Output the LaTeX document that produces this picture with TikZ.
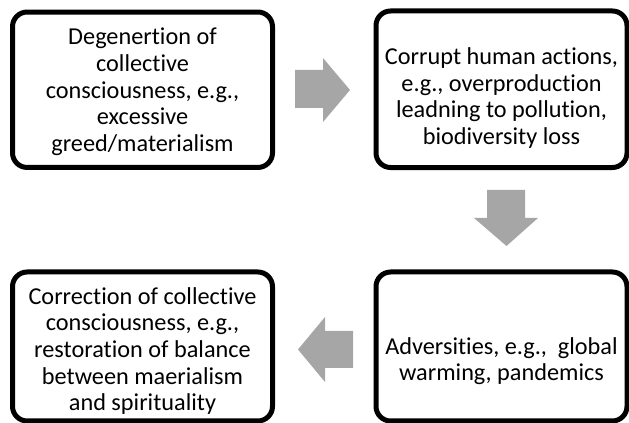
\documentclass[tikz,border=0pt]{standalone}
\usepackage{fontspec}
\setmainfont{Carlito}[Ligatures=NoCommon]
\definecolor{arrowgray}{HTML}{A6A6A6}
\begin{document}
\begin{tikzpicture}[x=0.75pt,y=-0.75pt,
  box/.style={draw=black, line width=3.75pt, rounded corners=11pt, fill=white, inner sep=0pt},
  txt/.style={align=center, font=\fontsize{18.2}{20}\selectfont, inner sep=0pt},
  blockarrow/.style={fill=arrowgray, draw=none}]
\useasboundingbox (0,0) rectangle (629,423);
% boxes
\node[box, minimum width=195pt, minimum height=116.6pt] (b1) at (142.5,89.75) {};
\node[box, minimum width=188.25pt, minimum height=117.4pt] (b2) at (501.5,89.25) {};
\node[box, minimum width=188.25pt, minimum height=111.75pt] (b3) at (501.5,346.5) {};
\node[box, minimum width=195pt, minimum height=111.75pt] (b4) at (142.5,346.5) {};
% texts
\node[txt] (t1) at ([yshift=-1.5pt]b1.center) {Degenertion of\\collective\\consciousness, e.g.,\\excessive\\greed/materialism};
\node[txt] (t2) at ([yshift=-6.5pt]b2.center) {Corrupt human actions,\\e.g., overproduction\\leadning to pollution,\\biodiversity loss};
\node[txt] (t3) at ([yshift=-11pt]b3.center) {Adversities, e.g.,~ global\\warming, pandemics};
\node[txt] (t4) at ([yshift=-3.5pt]b4.center) {Correction of collective\\consciousness, e.g.,\\restoration of balance\\between maerialism\\and spirituality};
% block arrows
\fill[blockarrow] (295,70) -- (323,70) -- (323,58) -- (350,90) -- (323,122) -- (323,108) -- (295,108) -- cycle;
\fill[blockarrow] (487,190) -- (525,190) -- (525,218) -- (538,218) -- (506.5,246) -- (474,218) -- (487,218) -- cycle;
\fill[blockarrow] (353,331) -- (353,368) -- (325,368) -- (325,382) -- (298,349.5) -- (325,317) -- (325,331) -- cycle;
\end{tikzpicture}
\end{document}
